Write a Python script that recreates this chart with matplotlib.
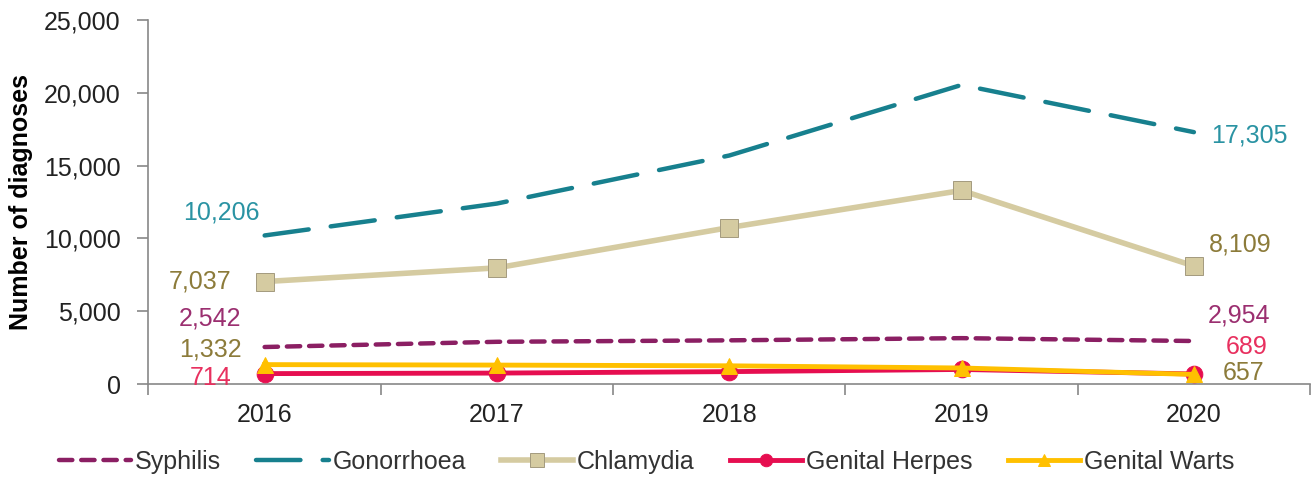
import numpy as np
import matplotlib
matplotlib.use("Agg")
import matplotlib.pyplot as plt
from matplotlib.ticker import FuncFormatter, FixedLocator

plt.rcParams["font.family"] = ["Liberation Sans", "DejaVu Sans"]

years = ["2016", "2017", "2018", "2019", "2020"]

syphilis = [2542, 2900, 3000, 3150, 2954]
gonorrhoea = [10206, 12400, 15700, 20550, 17305]
chlamydia = [7037, 7980, 10750, 13300, 8109]
herpes = [714, 750, 850, 1000, 689]
warts = [1332, 1300, 1250, 1100, 657]

# label texts for first / last year
first_labels = ["2,542", "10,206", "7,037", "714", "1,332"]
last_labels = ["2,954", "17,305", "8,109", "689", "657"]


def plot_chart():
    fig = plt.figure(figsize=(13.14, 4.8), dpi=100)
    ax = fig.add_axes([0.113, 0.2, 0.884, 0.758])
    x = np.arange(len(years))

    series = [
        dict(y=syphilis, name="Syphilis", color="#8B1F63", lab="#9B2F70",
             ls=(0, (3, 2)), lw=3.2, marker=None),
        dict(y=gonorrhoea, name="Gonorrhoea", color="#17808E", lab="#2A93A3",
             ls=(0, (10, 5)), lw=3.2, marker=None),
        dict(y=chlamydia, name="Chlamydia", color="#D5CBA1", lab="#8C7B3A",
             ls="-", lw=4, marker="s"),
        dict(y=herpes, name="Genital Herpes", color="#E60E50", lab="#E8305F",
             ls="-", lw=3.5, marker="o"),
        dict(y=warts, name="Genital Warts", color="#FFC000", lab="#8C7B3A",
             ls="-", lw=3.5, marker="^"),
    ]
    # text offsets (pixels) from first / last points
    first_off = [(-23, 29), (-5, 23), (-33, 0), (-33, -4), (-23, 15)]
    last_off = [(14, 26), (17, -3), (15, 21), (32, 27), (29, 1)]

    for i, s in enumerate(series):
        edge = "#A39A7E" if s["marker"] == "s" else s["color"]
        ax.plot(x, s["y"], color=s["color"], linestyle=s["ls"], lw=s["lw"],
                marker=s["marker"], markersize=13 if s["marker"] == "s" else 12,
                markerfacecolor=s["color"], markeredgecolor=edge,
                markeredgewidth=0.7, label=s["name"],
                dash_capstyle="round", zorder=3 + i)
        ax.annotate(first_labels[i], xy=(x[0], s["y"][0]),
                    xytext=first_off[i], textcoords="offset pixels",
                    ha="right", va="center", fontsize=18, color=s["lab"])
        ax.annotate(last_labels[i], xy=(x[-1], s["y"][-1]),
                    xytext=last_off[i], textcoords="offset pixels",
                    ha="left", va="center", fontsize=18, color=s["lab"])

    ax.set_xlim(-0.5, len(years) - 0.5)
    ax.set_ylim(0, 25000)
    ax.set_yticks(np.arange(0, 25001, 5000))
    ax.yaxis.set_major_formatter(FuncFormatter(lambda v, p: f"{int(v):,}"))
    ax.set_xticks(x)
    ax.set_xticklabels(years)
    ax.xaxis.set_minor_locator(FixedLocator(np.arange(-0.5, len(years), 1.0)))
    ax.tick_params(axis="x", which="major", length=0, pad=14, labelsize=18,
                   labelcolor="#222222")
    ax.tick_params(axis="x", which="minor", length=8, color="#888888", width=1.2)
    ax.tick_params(axis="y", length=8, color="#888888", width=1.2, labelsize=18,
                   pad=12, labelcolor="#222222")

    for sp in ["top", "right"]:
        ax.spines[sp].set_visible(False)
    for sp in ["left", "bottom"]:
        ax.spines[sp].set_color("#888888")
        ax.spines[sp].set_linewidth(1.2)

    ax.set_ylabel("Number of diagnoses", fontsize=18, fontweight="bold",
                  labelpad=8)

    fig.legend(*ax.get_legend_handles_labels(), loc="center",
               bbox_to_anchor=(0.492, 0.0375), ncol=5, frameon=False,
               fontsize=18, handlelength=2.9, handletextpad=0.15,
               columnspacing=1.4, markerscale=0.75, labelcolor="#333333")

    fig.savefig("out.png", dpi=100)
    return fig


plot_chart()
